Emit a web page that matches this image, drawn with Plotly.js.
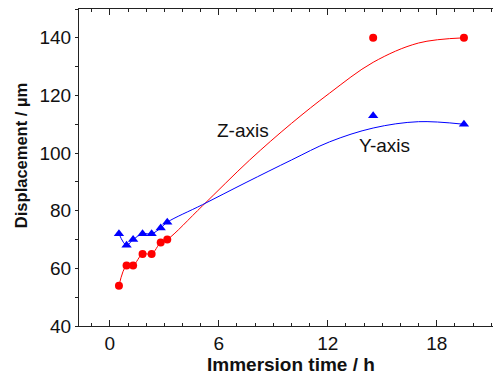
<!DOCTYPE html>
<html>
<head>
<meta charset="utf-8">
<script src="https://cdn.plot.ly/plotly-3.0.1.min.js"></script>
<style>
  html, body { margin: 0; padding: 0; background: #fff; }
  #chart { width: 495px; height: 378px; }
</style>
</head>
<body>
<div id="chart"></div>
<script>
// Measured displacement vs immersion time
const zTime = [0.5, 0.92, 1.28, 1.8, 2.3, 2.8, 3.16, 14.5, 19.5];
const zDisp = [54, 61, 61, 65, 65, 69, 70, 140, 140];
const yTime = [0.5, 0.92, 1.28, 1.8, 2.3, 2.8, 3.16, 14.5, 19.5];
const yDisp = [72, 68, 70, 72, 72, 74, 76, 113, 110];

// Fitted trend curves
const zFitTime = [0.5, 0.92, 1.28, 1.8, 2.3, 2.8, 3.16, 5.1, 7.7, 10.0, 12.1, 14.5, 17.0, 19.5];
const zFitDisp = [54, 61, 61, 65, 65, 69, 70, 81.7, 97.6, 110.3, 120.8, 131.5, 138.2, 140];
const yFitTime = [0.5, 0.92, 1.28, 1.8, 2.3, 2.8, 3.16, 5.1, 7.5, 10.0, 12.1, 14.5, 17.0, 19.5];
const yFitDisp = [72, 68, 70, 72, 72, 74, 76, 82.1, 89.8, 97.6, 103.9, 108.7, 110.9, 110];

const xTicks = [0, 6, 12, 18];
const yTicks = [40, 60, 80, 100, 120, 140];

const FONT = 'Arial, "Liberation Sans", sans-serif';
const INK = '#111';
const RED = '#ff0000';
const BLUE = '#0000ff';

const traces = [
  { x: zFitTime, y: zFitDisp, mode: 'lines', line: { color: RED, width: 1, shape: 'spline', smoothing: 1 }, hoverinfo: 'skip' },
  { x: yFitTime, y: yFitDisp, mode: 'lines', line: { color: BLUE, width: 1, shape: 'spline', smoothing: 1 }, hoverinfo: 'skip' },
  { x: zTime, y: zDisp, mode: 'markers', marker: { symbol: 'circle', size: 8, color: RED } },
  { x: yTime, y: yDisp, mode: 'markers', marker: { symbol: 'triangle-up', size: 9, color: BLUE } }
];

const layout = {
  width: 495, height: 378,
  margin: { l: 79, r: 2, t: 9, b: 52 },
  showlegend: false,
  paper_bgcolor: '#fff', plot_bgcolor: '#fff',
  font: { family: FONT, size: 17, color: INK },
  xaxis: {
    range: [-1.7, 21.1],
    tickvals: xTicks,
    ticks: 'inside', ticklen: 6, tickwidth: 1, tickcolor: '#222',
    minor: { dtick: 1, ticks: 'inside', ticklen: 3, tickwidth: 1, tickcolor: '#222' },
    showline: true, linecolor: '#222', linewidth: 1, mirror: 'ticks',
    showgrid: false, zeroline: false,
    tickfont: { family: FONT, size: 19, color: INK }
  },
  yaxis: {
    range: [40, 150],
    tickvals: yTicks,
    ticks: 'outside', ticklen: 3, tickwidth: 1, tickcolor: '#222',
    minor: { dtick: 10, ticks: 'outside', ticklen: 3, tickwidth: 1, tickcolor: '#222' },
    showline: true, linecolor: '#222', linewidth: 1, mirror: false,
    showgrid: false, zeroline: false,
    tickfont: { family: FONT, size: 19, color: INK }
  },
  annotations: [
    // axis titles
    { x: 0.513, y: -0.123, xref: 'paper', yref: 'paper', xanchor: 'center', yanchor: 'middle',
      text: '<b>Immersion time / h</b>', showarrow: false, font: { family: FONT, size: 19, color: INK } },
    { x: -0.14, y: 0.536, xref: 'paper', yref: 'paper', xanchor: 'center', yanchor: 'middle', textangle: -90,
      text: '<b>Displacement / µm</b>', showarrow: false, font: { family: FONT, size: 16.5, color: INK } },
    // series labels
    { x: 7.33, y: 107.7, xref: 'x', yref: 'y', text: 'Z-axis', showarrow: false, font: { family: FONT, size: 19, color: INK } },
    { x: 15.1, y: 102.5, xref: 'x', yref: 'y', text: 'Y-axis', showarrow: false, font: { family: FONT, size: 19, color: INK } }
  ]
};

Plotly.newPlot('chart', traces, layout, { displayModeBar: false, staticPlot: true });
</script>
</body>
</html>
